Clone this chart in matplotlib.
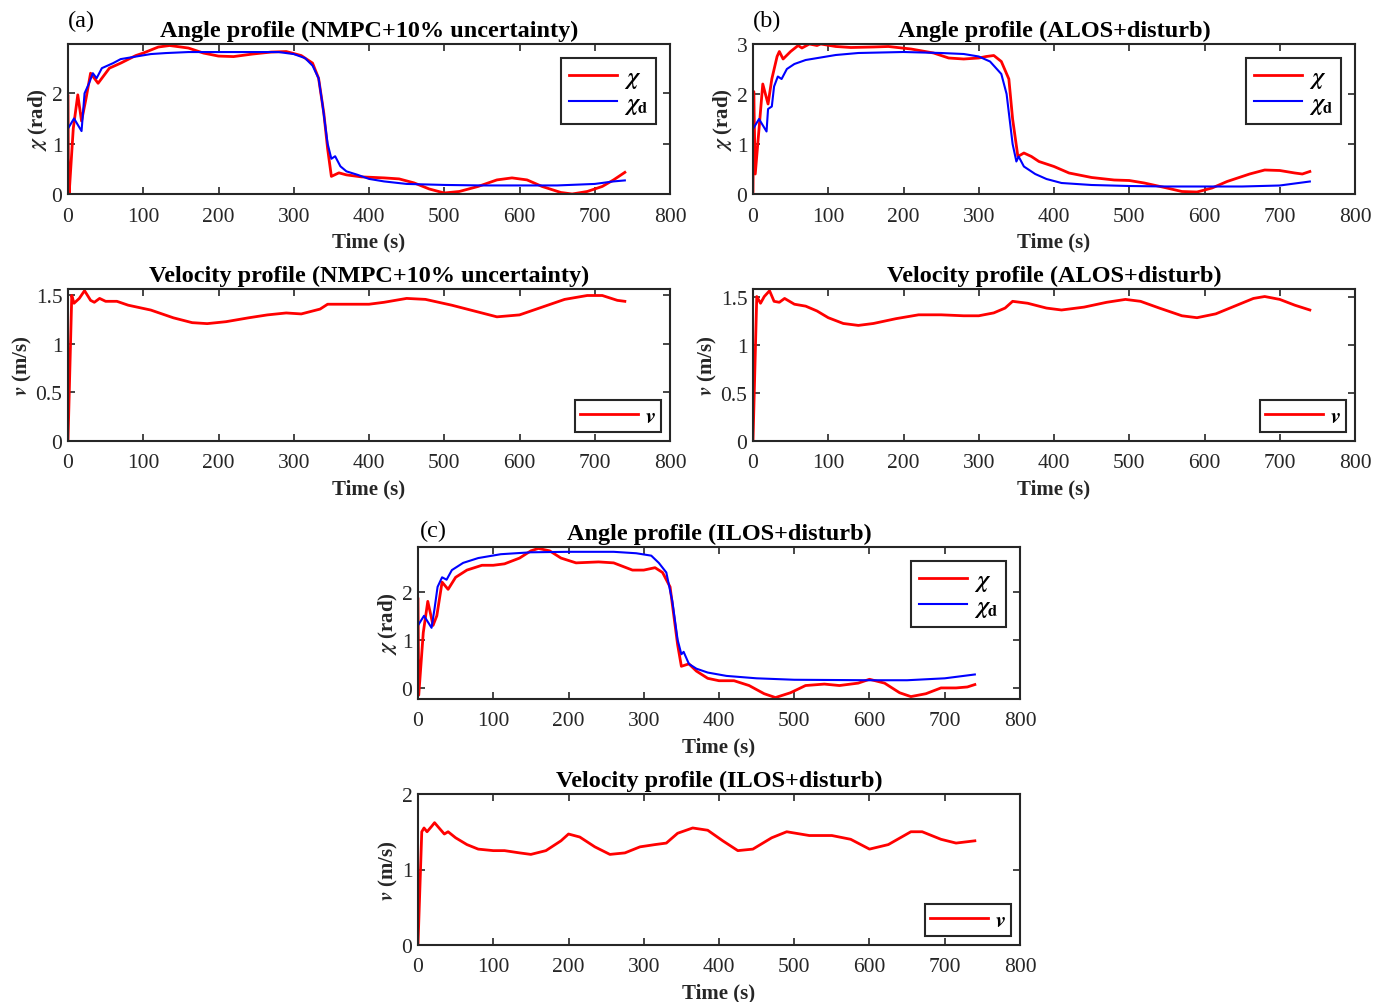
import numpy as np
import matplotlib
matplotlib.use("Agg")
import matplotlib.pyplot as plt

plt.rcParams['font.family'] = ['Liberation Serif', 'DejaVu Serif']
plt.rcParams['mathtext.fontset'] = 'stix'

# ---- (a) NMPC + 10% uncertainty ----
t_chi_a = [0, 0.5, 1.5, 7, 13, 18, 24, 30, 40, 55, 70, 90, 100, 120, 135, 160, 180, 200, 220, 245, 270, 290,
           310, 325, 333, 340, 345, 350, 360, 370, 390, 420, 440, 460, 480, 500, 520, 545, 570, 590, 610,
           630, 655, 670, 690, 710, 725, 740]
chi_a = [1.95, 0.5, 0.0, 1.3, 1.97, 1.45, 1.9, 2.4, 2.2, 2.5, 2.6, 2.75, 2.8, 2.92, 2.95, 2.9, 2.8, 2.74, 2.73,
         2.78, 2.82, 2.83, 2.75, 2.6, 2.3, 1.6, 0.9, 0.35, 0.42, 0.38, 0.34, 0.32, 0.3, 0.22, 0.1, 0.02, 0.05,
         0.15, 0.28, 0.32, 0.28, 0.15, 0.03, 0.0, 0.05, 0.15, 0.28, 0.43]
t_chid_a = [0, 8, 18, 22, 28, 33, 38, 45, 60, 70, 90, 110, 130, 160, 200, 250, 280, 300, 315, 325, 333, 338,
            345, 350, 355, 362, 370, 385, 400, 420, 450, 500, 550, 650, 700, 725, 740]
chid_a = [1.3, 1.5, 1.25, 2.0, 2.2, 2.4, 2.3, 2.5, 2.6, 2.68, 2.73, 2.78, 2.8, 2.82, 2.82, 2.82, 2.82, 2.78,
          2.7, 2.55, 2.3, 1.8, 1.0, 0.7, 0.75, 0.55, 0.45, 0.38, 0.3, 0.25, 0.2, 0.18, 0.17, 0.17, 0.2, 0.25, 0.27]
t_v_a = [0, 5, 8, 15, 22, 30, 35, 42, 50, 65, 80, 110, 140, 165, 185, 210, 240, 265, 290, 310, 320, 335, 345,
         370, 400, 420, 450, 475, 510, 545, 570, 600, 630, 660, 690, 710, 730, 740]
v_a = [0, 1.5, 1.42, 1.47, 1.55, 1.45, 1.43, 1.47, 1.44, 1.44, 1.4, 1.35, 1.27, 1.22, 1.21, 1.23, 1.27, 1.3,
       1.32, 1.31, 1.33, 1.36, 1.41, 1.41, 1.41, 1.43, 1.47, 1.46, 1.4, 1.33, 1.28, 1.3, 1.38, 1.46, 1.5, 1.5,
       1.45, 1.44]

# ---- (b) ALOS + disturbance ----
t_chi_b = [0, 1, 3, 13, 20, 25, 32, 35, 40, 50, 60, 65, 75, 85, 90, 110, 130, 160, 180, 210, 240, 260, 280,
           300, 310, 320, 330, 340, 345, 352, 360, 370, 380, 400, 420, 450, 480, 500, 520, 550, 570, 590, 610,
           630, 660, 680, 700, 720, 730, 740]
chi_b = [0.05, 2.05, 0.4, 2.2, 1.8, 2.3, 2.75, 2.85, 2.7, 2.85, 2.97, 2.92, 3.0, 2.97, 3.0, 2.95, 2.93, 2.94,
         2.95, 2.9, 2.82, 2.72, 2.7, 2.72, 2.75, 2.77, 2.65, 2.3, 1.5, 0.75, 0.82, 0.75, 0.65, 0.55, 0.42, 0.33,
         0.28, 0.27, 0.22, 0.12, 0.05, 0.04, 0.12, 0.25, 0.4, 0.48, 0.47, 0.42, 0.4, 0.45]
t_chid_b = [0, 8, 18, 20, 25, 28, 33, 38, 45, 55, 70, 90, 110, 140, 200, 250, 280, 300, 315, 330, 337, 345,
            350, 353, 360, 375, 390, 410, 450, 500, 550, 650, 700, 725, 740]
chid_b = [1.3, 1.5, 1.25, 1.7, 1.75, 2.15, 2.35, 2.3, 2.5, 2.6, 2.68, 2.73, 2.78, 2.82, 2.84, 2.82, 2.8, 2.75,
          2.65, 2.4, 2.0, 1.0, 0.65, 0.75, 0.55, 0.4, 0.3, 0.22, 0.18, 0.16, 0.15, 0.15, 0.17, 0.22, 0.25]
t_v_b = [0, 5, 10, 15, 22, 28, 35, 42, 55, 70, 85, 100, 120, 140, 160, 190, 220, 250, 280, 300, 320, 335, 345,
         365, 390, 410, 440, 470, 495, 515, 540, 570, 590, 615, 640, 665, 680, 700, 720, 740]
v_b = [0, 1.5, 1.43, 1.5, 1.56, 1.45, 1.44, 1.48, 1.42, 1.4, 1.35, 1.28, 1.22, 1.2, 1.22, 1.27, 1.31, 1.31,
       1.3, 1.3, 1.33, 1.38, 1.45, 1.43, 1.38, 1.36, 1.39, 1.44, 1.47, 1.45, 1.38, 1.3, 1.28, 1.32, 1.4, 1.48,
       1.5, 1.47, 1.41, 1.36]

# ---- (c) ILOS + disturbance ----
t_chi_c = [0, 1, 7, 13, 20, 25, 32, 40, 50, 65, 85, 100, 115, 135, 150, 160, 175, 190, 210, 240, 260, 285,
           300, 315, 325, 335, 340, 345, 350, 360, 370, 385, 400, 420, 440, 460, 475, 495, 515, 540, 560, 585,
           600, 620, 640, 655, 675, 695, 715, 730, 740]
chi_c = [1.85, -0.15, 1.15, 1.8, 1.3, 1.5, 2.2, 2.05, 2.3, 2.45, 2.55, 2.55, 2.58, 2.7, 2.85, 2.9, 2.85, 2.7,
         2.6, 2.62, 2.6, 2.45, 2.45, 2.5, 2.4, 2.1, 1.5, 0.9, 0.45, 0.5, 0.35, 0.2, 0.15, 0.15, 0.05, -0.12,
         -0.2, -0.1, 0.05, 0.08, 0.05, 0.1, 0.18, 0.1, -0.1, -0.18, -0.12, 0.0, 0.0, 0.02, 0.07]
t_chid_c = [0, 8, 18, 22, 26, 32, 38, 45, 60, 80, 110, 150, 200, 260, 290, 310, 320, 330, 338, 345, 350, 353,
            360, 370, 385, 410, 450, 500, 600, 650, 700, 725, 740]
chid_c = [1.3, 1.5, 1.25, 1.65, 2.1, 2.3, 2.25, 2.45, 2.6, 2.7, 2.78, 2.82, 2.83, 2.83, 2.8, 2.75, 2.6, 2.4,
          1.8, 1.0, 0.7, 0.75, 0.5, 0.4, 0.32, 0.25, 0.2, 0.17, 0.16, 0.16, 0.2, 0.25, 0.28]
t_v_c = [0, 5, 8, 12, 18, 22, 28, 35, 40, 50, 65, 80, 100, 115, 135, 150, 170, 190, 200, 215, 235, 255, 275,
         295, 315, 330, 345, 365, 385, 405, 425, 445, 470, 490, 520, 550, 575, 600, 625, 655, 670, 695, 715, 740]
v_c = [0, 1.5, 1.55, 1.5, 1.57, 1.62, 1.55, 1.47, 1.5, 1.42, 1.33, 1.27, 1.25, 1.25, 1.22, 1.2, 1.25, 1.38,
       1.47, 1.43, 1.3, 1.2, 1.22, 1.3, 1.33, 1.35, 1.48, 1.55, 1.52, 1.38, 1.25, 1.27, 1.42, 1.5, 1.45, 1.45,
       1.4, 1.27, 1.33, 1.5, 1.5, 1.4, 1.35, 1.38]

W, H = 1374, 1003
GREY = '#262626'
fig = plt.figure(figsize=(W / 100, H / 100), dpi=100)


def px_axes(x0, x1, y0, y1):
    return fig.add_axes([x0 / W, 1 - y1 / H, (x1 - x0) / W, (y1 - y0) / H])


def style(ax, ylim, yticks, ylabel, title):
    ax.set_xlim(0, 800)
    ax.set_ylim(*ylim)
    ax.set_xticks(range(0, 801, 100))
    ax.set_yticks(yticks)
    ax.set_yticklabels([('%g' % v) for v in yticks])
    ax.tick_params(direction='in', top=True, right=True, labelsize=15.5, length=5, width=1.2,
                   color=GREY, labelcolor=GREY)
    ax.tick_params(axis='x', pad=9)
    ax.tick_params(axis='y', pad=4)
    for s in ax.spines.values():
        s.set_linewidth(1.5)
        s.set_color(GREY)
    ax.set_xlabel('Time (s)', fontsize=15, fontweight='bold', labelpad=4, color=GREY)
    ax.set_ylabel(ylabel, fontsize=15, fontweight='bold', labelpad=1, color=GREY)
    ax.set_title(title, fontsize=17.5, fontweight='bold', pad=6)


def angle_panel(ax, t1, y1, t2, y2, ylim, yticks, title):
    ax.plot(t1, y1, color='#ff0000', lw=2.0, label='$\\boldsymbol{\\chi}$')
    ax.plot(t2, y2, color='#0000ff', lw=1.5, label='$\\boldsymbol{\\chi}_{\\mathbf{d}}$')
    style(ax, ylim, yticks, '$\\boldsymbol{\\chi}$ (rad)', title)
    leg = ax.legend(loc='upper right', handlelength=2.0, fancybox=False, framealpha=1,
                    edgecolor=GREY, borderaxespad=0.6, labelspacing=0.1, handletextpad=0.3,
                    borderpad=0.35, prop={'weight': 'bold', 'size': 17})
    leg.get_frame().set_linewidth(1.5)


def vel_panel(ax, t, v, ylim, yticks, title):
    ax.plot(t, v, color='#ff0000', lw=2.0, label='$\\boldsymbol{v}$')
    style(ax, ylim, yticks, '$\\boldsymbol{v}$ (m/s)', title)
    leg = ax.legend(loc='lower right', handlelength=2.6, fancybox=False, framealpha=1,
                    edgecolor=GREY, borderaxespad=0.4, handletextpad=0.3, borderpad=0.25,
                    prop={'weight': 'bold', 'size': 16})
    leg.get_frame().set_linewidth(1.5)


ax1 = px_axes(68, 670, 45, 195)
angle_panel(ax1, t_chi_a, chi_a, t_chid_a, chid_a, (0, 2.98), [0, 1, 2], 'Angle profile (NMPC+10% uncertainty)')
ax2 = px_axes(68, 670, 290, 442)
vel_panel(ax2, t_v_a, v_a, (0, 1.567), [0, 0.5, 1, 1.5], 'Velocity profile (NMPC+10% uncertainty)')

ax3 = px_axes(753, 1355, 45, 195)
angle_panel(ax3, t_chi_b, chi_b, t_chid_b, chid_b, (0, 3.0), [0, 1, 2, 3], 'Angle profile (ALOS+disturb)')
ax4 = px_axes(753, 1355, 290, 442)
vel_panel(ax4, t_v_b, v_b, (0, 1.578), [0, 0.5, 1, 1.5], 'Velocity profile (ALOS+disturb)')

ax5 = px_axes(418, 1020, 548, 700)
angle_panel(ax5, t_chi_c, chi_c, t_chid_c, chid_c, (-0.23, 2.93), [0, 1, 2], 'Angle profile (ILOS+disturb)')
ax6 = px_axes(418, 1020, 795, 946)
vel_panel(ax6, t_v_c, v_c, (0, 2), [0, 1, 2], 'Velocity profile (ILOS+disturb)')

fig.text(68 / W, 1 - 21 / H, '(a)', fontsize=17.5, va='center', ha='left')
fig.text(753 / W, 1 - 21 / H, '(b)', fontsize=17.5, va='center', ha='left')
fig.text(420 / W, 1 - 531 / H, '(c)', fontsize=17.5, va='center', ha='left')

fig.savefig('out.png', dpi=100)
